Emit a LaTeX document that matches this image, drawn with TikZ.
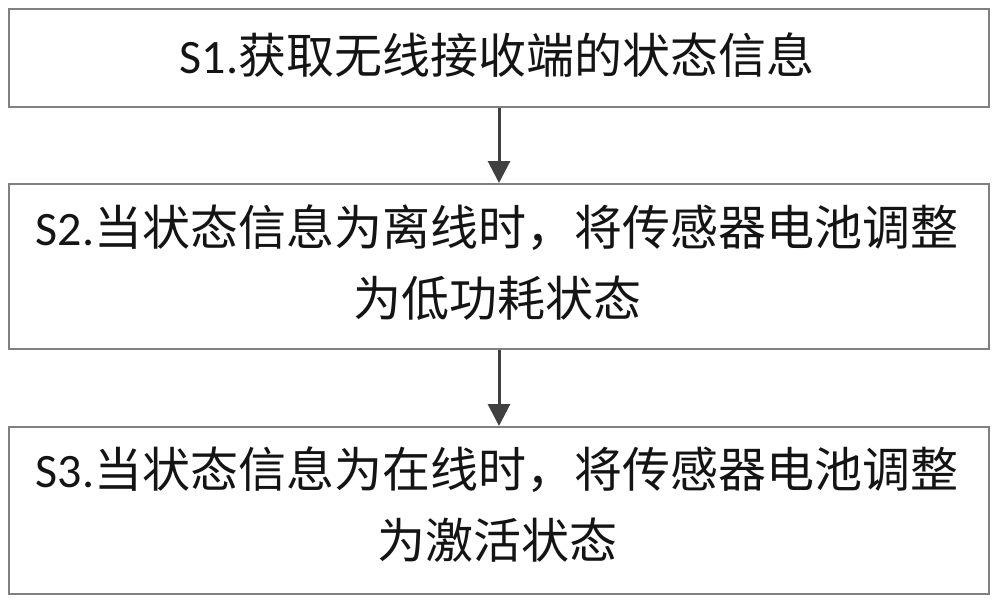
\documentclass[tikz,border=0pt]{standalone}
\usepackage{fontspec}
\setmainfont{Carlito}
\newfontfamily\cjk{Noto Sans CJK SC}
\usetikzlibrary{arrows.meta}
\definecolor{boxgray}{RGB}{128,128,128}
\definecolor{arrowgray}{RGB}{64,64,64}
\definecolor{txt}{RGB}{20,20,20}
\begin{document}
\begin{tikzpicture}[x=1pt,y=-1pt,
  stepbox/.style={draw=boxgray, line width=2pt, minimum width=980pt, inner sep=0pt},
  steptext/.style={text=txt, inner sep=0pt, align=center, font=\fontsize{48}{65}\selectfont},
  conn/.style={draw=arrowgray, line width=3pt, -{Triangle[length=22pt,width=22pt]}}]
\useasboundingbox (0,0) rectangle (1000,602);
\node[stepbox, minimum height=98pt] (s1) at (499,58) {};
\node[stepbox, minimum height=165pt] (s2) at (499,266.5) {};
\node[stepbox, minimum height=167pt] (s3) at (499,510.5) {};
\node[steptext] (t1) at (497,55)
  {S1.{\cjk\fontsize{48}{65}\selectfont 获取无线接收端的状态信息}};
\node[steptext] (t2) at (497,263)
  {S2.{\cjk 当状态信息为离线时，将传感器电池调整}\\[6pt]{\cjk 为低功耗状态}};
\node[steptext] (t3) at (497,505)
  {S3.{\cjk 当状态信息为在线时，将传感器电池调整}\\[6pt]{\cjk 为激活状态}};
\draw[conn] (s1) -- (s2);
\draw[conn] (s2) -- (s3);
\end{tikzpicture}
\end{document}
